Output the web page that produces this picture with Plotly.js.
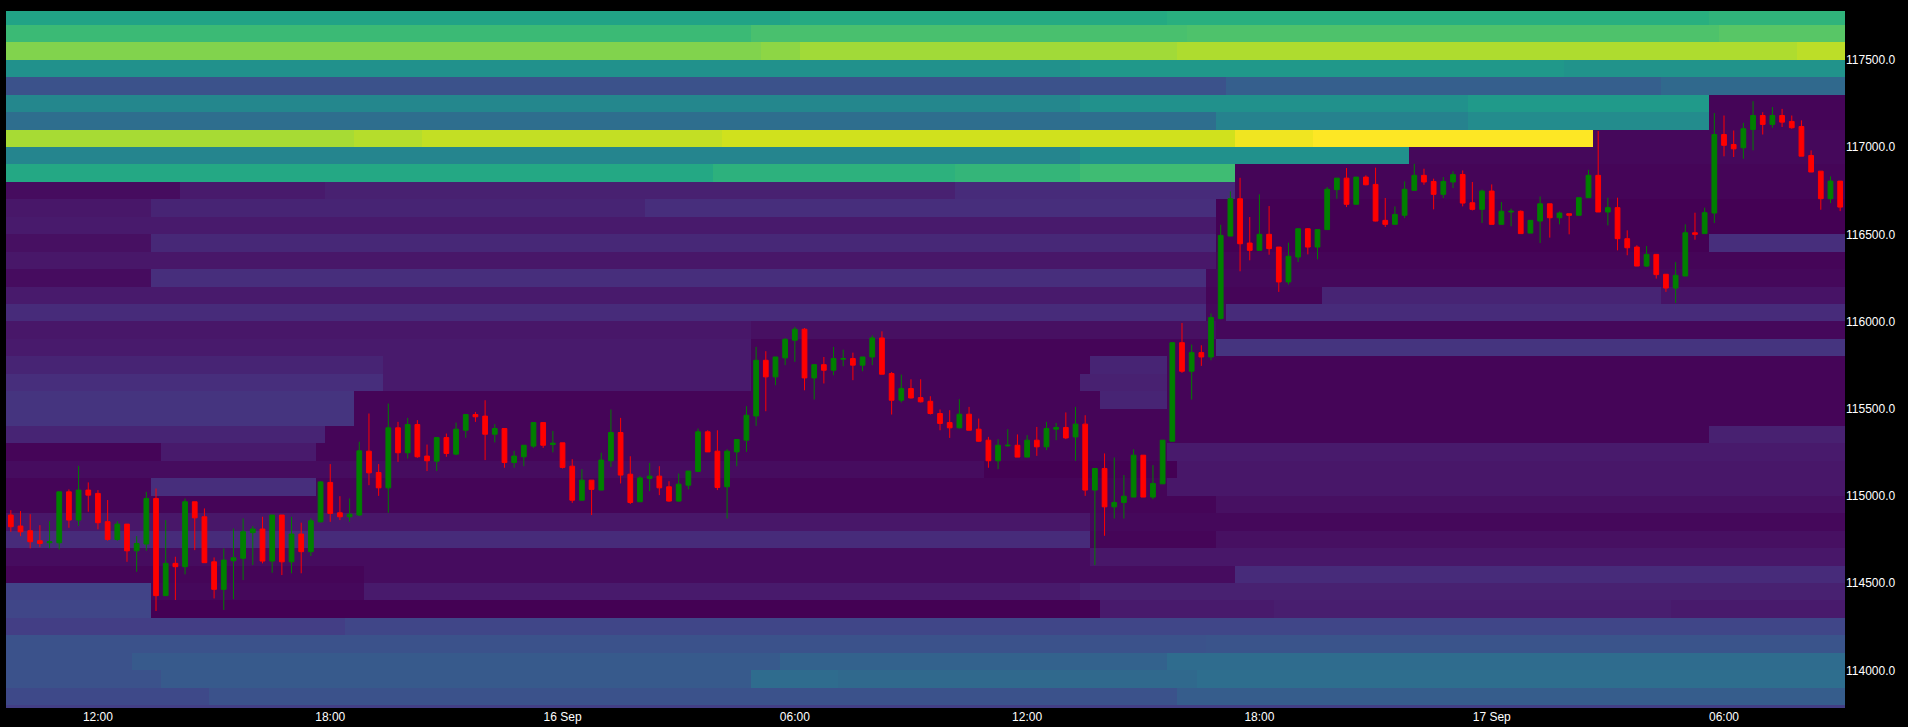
<!DOCTYPE html>
<html><head><meta charset="utf-8">
<script src="https://cdn.plot.ly/plotly-3.0.1.min.js"></script>
<style>html,body{margin:0;padding:0;background:#000;}#chart{width:1908px;height:727px;}</style>
</head><body><div id="chart"></div>
<script>
// 15-minute candles, first one 15 Sep 09:45
const startTime = [2025, 9, 15, 9, 45];
const intervalMinutes = 15;

const opens = [114891,114828,114801,114744,114732,114732,115024,114862,115034,115015,114853,114751,114839,114686,114725,114986,114429,114614,114595,114967,
114881,114623,114465,114629,114643,114790,114811,114627,114891,114623,114782,114681,114852,115078,114904,114881,114891,115257,115135,115047,
115391,115248,115410,115229,115200,115335,115240,115377,115467,115458,115354,115387,115192,115225,115286,115421,115295,115305,115171,114976,
115091,115034,115202,115364,115125,114967,115101,115114,115053,114971,115062,115141,115368,115257,115053,115253,115320,115459,115778,115683,
115792,115893,115956,115677,115753,115721,115784,115788,115750,115797,115906,115702,115549,115616,115564,115543,115473,115421,115391,115469,
115383,115320,115202,115288,115291,115223,115320,115282,115383,115393,115339,115412,115034,115158,114938,114963,114994,115234,114994,115070,
115314,115879,115715,115822,115797,116017,116490,116704,116450,116408,116500,116427,116227,116370,116532,116427,116527,116756,116822,116672,
116828,116786,116580,116557,116609,116752,116838,116803,116729,116800,116843,116681,116643,116748,116557,116628,116632,116507,116576,116675,
116595,116618,116609,116710,116838,116628,116653,116475,116427,116318,116385,116271,116192,116261,116509,116504,116622,117072,117015,116996,
117101,117181,117130,117181,117147,117118,116952,116862,116704,116805];
const highs = [114919,114914,114896,114833,114856,115024,115038,115173,115078,115034,114977,114856,114839,114770,115024,115043,114862,114652,114986,114967,
114929,114648,114700,114814,114872,114828,114881,114891,114891,114881,114847,114872,115085,115183,114999,114986,115311,115473,115183,115530,
115425,115448,115435,115295,115335,115358,115421,115467,115482,115549,115412,115387,115259,115291,115421,115421,115373,115305,115211,115154,
115091,115248,115496,115448,115228,115114,115190,115171,115085,115129,115143,115387,115377,115377,115268,115324,115515,115855,115830,115797,
115906,115969,115963,115753,115797,115855,115839,115822,115797,115921,115944,115711,115696,115669,115669,115572,115496,115492,115555,115511,
115444,115339,115326,115383,115353,115349,115396,115425,115419,115479,115511,115463,115158,115244,115221,115120,115268,115234,115177,115320,
115879,115992,115868,115864,116046,116555,116746,116824,116599,116729,116662,116427,116452,116532,116536,116527,116771,116822,116880,116828,
116838,116882,116708,116660,116803,116904,116876,116819,116828,116861,116866,116800,116756,116786,116685,116647,116637,116580,116717,116675,
116631,116618,116710,116870,117092,116710,116710,116523,116437,116433,116385,116271,116341,116557,116624,116653,117195,117181,117095,117139,
117263,117200,117229,117219,117181,117153,116981,116862,116832,116805];
const lows = [114795,114770,114700,114706,114700,114694,114818,114828,114910,114809,114744,114744,114623,114566,114686,114341,114429,114404,114551,114690,
114618,114413,114347,114408,114518,114604,114614,114560,114547,114557,114557,114656,114849,114852,114862,114852,114885,115062,115001,114904,
115196,115215,115219,115143,115143,115225,115234,115334,115425,115206,115307,115162,115162,115171,115276,115276,115250,115158,114961,114976,
114891,115034,115167,115072,114954,114967,115028,115005,114967,114967,115038,115141,115253,115034,114871,115171,115253,115402,115486,115635,
115750,115769,115606,115553,115645,115692,115744,115664,115715,115750,115698,115467,115536,115559,115536,115467,115377,115333,115387,115377,
115311,115162,115154,115282,115223,115223,115230,115263,115320,115326,115202,115001,114604,114772,114871,114871,114994,114994,114982,115070,
115314,115706,115553,115746,115778,116013,116490,116288,116351,116408,116383,116170,116212,116341,116385,116357,116527,116704,116656,116672,
116781,116574,116542,116557,116593,116752,116784,116643,116708,116765,116660,116637,116565,116557,116557,116546,116504,116507,116450,116481,
116557,116500,116609,116710,116628,116551,116408,116380,116318,116313,116246,116170,116107,116261,116469,116504,116565,116947,116943,116933,
116981,117072,117111,117115,117105,116948,116857,116641,116679,116633];
const closes = [114824,114795,114738,114728,114738,115024,114862,115034,115005,114847,114751,114839,114686,114728,114986,114429,114614,114595,114967,114875,
114618,114465,114633,114646,114795,114811,114627,114891,114623,114782,114681,114858,115081,114900,114881,114896,115259,115133,115047,115391,
115248,115410,115225,115202,115335,115244,115383,115467,115454,115354,115387,115192,115229,115291,115421,115291,115303,115164,114976,115091,
115038,115206,115364,115120,114963,115104,115114,115047,114971,115068,115143,115368,115253,115049,115257,115324,115463,115778,115683,115797,
115898,115956,115677,115753,115721,115788,115788,115750,115797,115906,115698,115549,115616,115562,115540,115473,115416,115391,115469,115377,
115314,115202,115291,115291,115223,115320,115282,115387,115393,115333,115412,115034,115158,114938,114963,114999,115234,114994,115072,115320,
115879,115715,115822,115797,116023,116494,116704,116446,116408,116500,116418,116227,116374,116532,116427,116527,116758,116822,116672,116828,
116784,116576,116557,116614,116758,116838,116800,116729,116803,116842,116679,116643,116748,116557,116632,116632,116504,116580,116675,116595,
116622,116609,116710,116838,116628,116653,116475,116423,116318,116385,116269,116192,116265,116509,116500,116624,117072,117010,116990,117105,
117181,117130,117181,117143,117111,116948,116857,116704,116805,116656];

// order-book depth heatmap: price bins (lower edge, 100 wide), top to bottom
const priceLevels = [117700,117600,117500,117400,117300,117200,117100,117000,116900,116800,116700,
116600,116500,116400,116300,116200,116100,116000,115900,115800,115700,115600,115500,115400,115300,115200,
115100,115000,114900,114800,114700,114600,114500,114400,114300,114200,114100,114000,113900,113800,113700];
// per price bin: [first candle index, last candle index, normalized depth]
const depthSegments = [
 [[0,80,0.58],[81,119,0.61],[120,175,0.63],[176,189,0.65]],
 [[0,76,0.68],[77,121,0.71],[122,176,0.72],[177,189,0.74]],
 [[0,77,0.81],[78,81,0.83],[82,120,0.86],[121,184,0.88],[185,189,0.9]],
 [[0,110,0.5],[111,160,0.53],[161,189,0.51]],
 [[0,125,0.25],[126,170,0.3],[171,189,0.34]],
 [[0,110,0.46],[111,150,0.5],[151,175,0.54],[176,189,0.01]],
 [[0,124,0.36],[125,150,0.44],[151,175,0.48],[176,189,0.01]],
 [[0,35,0.87],[36,42,0.89],[43,73,0.91],[74,126,0.93],[127,134,0.98],[135,163,1.0],[164,189,0.02]],
 [[0,110,0.45],[111,144,0.5],[145,189,0.02]],
 [[0,72,0.6],[73,97,0.64],[98,110,0.66],[111,126,0.69],[127,189,0.01]],
 [[0,17,0.03],[18,32,0.07],[33,97,0.09],[98,126,0.12],[127,189,0.01]],
 [[0,14,0.06],[15,65,0.1],[66,124,0.13],[125,189,0.0]],
 [[0,124,0.07],[125,189,0.0]],
 [[0,14,0.04],[15,124,0.11],[125,175,0.0],[176,189,0.13]],
 [[0,124,0.06],[125,189,0.01]],
 [[0,14,0.03],[15,123,0.13],[124,189,0.02]],
 [[0,123,0.07],[124,135,0.01],[136,170,0.1],[171,189,0.05]],
 [[0,123,0.12],[124,125,0.02],[126,189,0.12]],
 [[0,76,0.06],[77,124,0.04],[125,189,0.02]],
 [[0,76,0.07],[77,124,0.01],[125,189,0.15]],
 [[0,38,0.1],[39,76,0.07],[77,111,0.01],[112,119,0.1],[120,189,0.01]],
 [[0,38,0.13],[39,76,0.07],[77,110,0.01],[111,119,0.09],[120,189,0.01]],
 [[0,35,0.15],[36,112,0.01],[113,119,0.1],[120,189,0.01]],
 [[0,35,0.15],[36,189,0.01]],
 [[0,32,0.1],[33,175,0.01],[176,189,0.09]],
 [[0,15,0.01],[16,31,0.07],[32,119,0.01],[120,189,0.07]],
 [[0,100,0.03],[101,120,0.0],[121,189,0.06]],
 [[0,14,0.01],[15,31,0.13],[32,119,0.01],[120,189,0.06]],
 [[0,124,0.01],[125,189,0.04]],
 [[0,111,0.06],[112,189,0.02]],
 [[0,111,0.12],[112,124,0.01],[125,189,0.04]],
 [[0,111,0.03],[112,189,0.06]],
 [[0,36,0.01],[37,126,0.03],[127,189,0.12]],
 [[0,14,0.2],[15,36,0.02],[37,110,0.07],[111,189,0.09]],
 [[0,14,0.21],[15,112,0.0],[113,130,0.07],[131,171,0.08],[172,189,0.07]],
 [[0,34,0.18],[35,189,0.21]],
 [[0,123,0.25],[124,189,0.26]],
 [[0,12,0.25],[13,79,0.28],[80,119,0.31],[120,189,0.35]],
 [[0,15,0.25],[16,76,0.28],[77,85,0.35],[86,122,0.34],[123,189,0.36]],
 [[0,20,0.22],[21,120,0.25],[121,189,0.29]],
 [[0,189,0.18]]
];

const xTickTimes = ['2025-09-15 12:00','2025-09-15 18:00','2025-09-16 00:00','2025-09-16 06:00','2025-09-16 12:00','2025-09-16 18:00','2025-09-17 00:00','2025-09-17 06:00'];
const xTickLabels = ['12:00','18:00','16 Sep','06:00','12:00','18:00','17 Sep','06:00'];
const yTickValues = [114000,114500,115000,115500,116000,116500,117000,117500];
const yTickLabels = yTickValues.map(v => v.toFixed(1));

function pad(n){return (n<10?'0':'')+n;}
function timeAt(k){
  const ms = Date.UTC(startTime[0], startTime[1]-1, startTime[2], startTime[3], startTime[4]) + k*intervalMinutes*60000;
  const d = new Date(ms);
  return d.getUTCFullYear()+'-'+pad(d.getUTCMonth()+1)+'-'+pad(d.getUTCDate())+' '+pad(d.getUTCHours())+':'+pad(d.getUTCMinutes())+':'+pad(d.getUTCSeconds());
}
const nBars = opens.length;
const times = opens.map((_, k) => timeAt(k));

const zRows = depthSegments.map(segs => {
  const row = new Array(nBars).fill(0);
  segs.forEach(([a,b,v]) => { for (let k=a; k<=b && k<nBars; k++) row[k] = v; });
  return row;
});
const rowCenters = priceLevels.map(p => p + 50);

const font = {family:'"Liberation Sans", Arial, sans-serif', size:12, color:'#ffffff'};

const traces = [
  {type:'heatmap', x:times, y:rowCenters, z:zRows, colorscale:'Viridis', zmin:0, zmax:1,
   zsmooth:false, showscale:false, hoverinfo:'skip'},
  {type:'candlestick', x:times, open:opens, high:highs, low:lows, close:closes,
   increasing:{line:{color:'#008000', width:1}, fillcolor:'#008000'},
   decreasing:{line:{color:'#ff0000', width:1}, fillcolor:'#ff0000'},
   whiskerwidth:0, showlegend:false}
];

const layout = {
  width:1908, height:727,
  paper_bgcolor:'#000000', plot_bgcolor:'#000000',
  margin:{l:6, r:63, t:11, b:19, pad:0},
  showlegend:false,
  font:font,
  xaxis:{type:'date', range:[timeAt(-0.5), timeAt(nBars-0.5)], rangeslider:{visible:false},
         showgrid:false, zeroline:false, showline:false, ticks:'',
         tickmode:'array', tickvals:xTickTimes, ticktext:xTickLabels, tickfont:font},
  yaxis:{side:'right', range:[113785, 117780], showgrid:false, zeroline:false, showline:false, ticks:'',
         tickmode:'array', tickvals:yTickValues, ticktext:yTickLabels, tickfont:font}
};

Plotly.newPlot('chart', traces, layout, {staticPlot:true, displayModeBar:false});
</script>
</body></html>
